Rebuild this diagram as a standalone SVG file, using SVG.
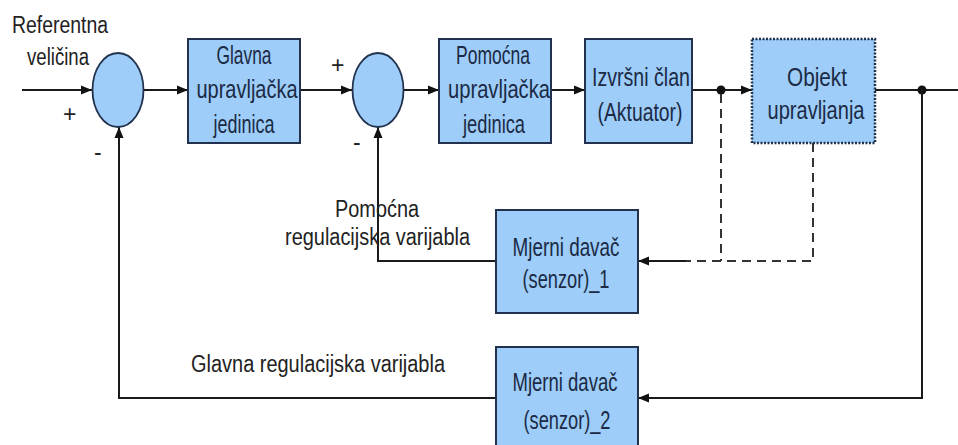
<svg xmlns="http://www.w3.org/2000/svg" width="958" height="445" viewBox="0 0 958 445">
<defs>
<marker id="arr" markerUnits="userSpaceOnUse" markerWidth="12" markerHeight="10" refX="11" refY="5" orient="auto">
<path d="M0,0.5 L11,5 L0,9.5 z" fill="#111"/>
</marker>
<style>
.line{fill:none;stroke:#1a1a1a;stroke-width:2}
.dash{fill:none;stroke:#333;stroke-width:2;stroke-dasharray:9,6}
.box{fill:#9dcdf8;stroke:#22324e;stroke-width:2}
.obj{fill:#9dcdf8;stroke:#22324e;stroke-width:2.5;stroke-dasharray:2,1.5}
.sum{fill:#9dcdf8;stroke:#22324e;stroke-width:1.8}
.bt{font-family:"Liberation Sans",Arial,sans-serif;font-size:25px;fill:#1b2a45;text-anchor:middle}
.lb{font-family:"Liberation Sans",Arial,sans-serif;font-size:23px;fill:#222}
.dot{fill:#111}
</style>
</defs>
<rect width="958" height="445" fill="#fff"/>

<g id="connectors">
<line class="line" x1="22" y1="90" x2="92" y2="90" marker-end="url(#arr)"/>
<line class="line" x1="143" y1="90" x2="188" y2="90" marker-end="url(#arr)"/>
<line class="line" x1="300" y1="90" x2="352" y2="90" marker-end="url(#arr)"/>
<line class="line" x1="403" y1="90" x2="439" y2="90" marker-end="url(#arr)"/>
<line class="line" x1="551" y1="90" x2="585" y2="90" marker-end="url(#arr)"/>
<line class="line" x1="692" y1="90" x2="752" y2="90" marker-end="url(#arr)"/>
<line class="line" x1="875" y1="90" x2="958" y2="90"/>
<circle class="dot" cx="721" cy="90" r="4.5"/>
<circle class="dot" cx="922" cy="90" r="4.5"/>
<path class="line" d="M922,90 V398 H638" marker-end="url(#arr)"/>
<path class="line" d="M496,398 H119 V127" marker-end="url(#arr)"/>
<path class="line" d="M496,261 H378 V127" marker-end="url(#arr)"/>
<path class="dash" d="M721,94 V261"/>
<path class="dash" d="M813,143 V261 H685"/>
<line class="line" x1="686" y1="261" x2="638" y2="261" marker-end="url(#arr)"/>
</g>

<g id="sum1"><ellipse class="sum" cx="118" cy="90" rx="25.5" ry="37"/></g>
<g id="sum2"><ellipse class="sum" cx="378" cy="90" rx="25.5" ry="37"/></g>

<g id="glavna">
<rect class="box" x="188" y="39" width="112" height="104"/>
<text class="bt" x="244" y="64" textLength="55" lengthAdjust="spacingAndGlyphs">Glavna</text>
<text class="bt" x="247" y="98" textLength="101" lengthAdjust="spacingAndGlyphs">upravljačka</text>
<text class="bt" x="244" y="133" textLength="61" lengthAdjust="spacingAndGlyphs">jedinica</text>
</g>

<g id="pomocna">
<rect class="box" x="439" y="39" width="112" height="104"/>
<text class="bt" x="493" y="64" textLength="74" lengthAdjust="spacingAndGlyphs">Pomoćna</text>
<text class="bt" x="499" y="98" textLength="102" lengthAdjust="spacingAndGlyphs">upravljačka</text>
<text class="bt" x="494" y="133" textLength="62" lengthAdjust="spacingAndGlyphs">jedinica</text>
</g>

<g id="izvrsni">
<rect class="box" x="585" y="39" width="107" height="104"/>
<text class="bt" x="641" y="86" textLength="98" lengthAdjust="spacingAndGlyphs">Izvršni član</text>
<text class="bt" x="640" y="121" textLength="85" lengthAdjust="spacingAndGlyphs">(Aktuator)</text>
</g>

<g id="objekt">
<rect class="obj" x="752" y="39" width="123" height="104"/>
<text class="bt" x="817" y="86" textLength="60" lengthAdjust="spacingAndGlyphs">Objekt</text>
<text class="bt" x="816" y="119" textLength="97" lengthAdjust="spacingAndGlyphs">upravljanja</text>
</g>

<g id="senzor1">
<rect class="box" x="496" y="210" width="142" height="103"/>
<text class="bt" x="566" y="256" textLength="107" lengthAdjust="spacingAndGlyphs">Mjerni davač</text>
<text class="bt" x="566" y="288" textLength="87" lengthAdjust="spacingAndGlyphs">(senzor)_1</text>
</g>

<g id="senzor2">
<rect class="box" x="496" y="347" width="142" height="110"/>
<text class="bt" x="565" y="391" textLength="105" lengthAdjust="spacingAndGlyphs">Mjerni davač</text>
<text class="bt" x="567" y="429" textLength="87" lengthAdjust="spacingAndGlyphs">(senzor)_2</text>
</g>

<g id="labels">
<text class="lb" x="12" y="33" textLength="96" lengthAdjust="spacingAndGlyphs">Referentna</text>
<text class="lb" x="27" y="65" textLength="62" lengthAdjust="spacingAndGlyphs">veličina</text>
<text class="lb" x="63" y="122">+</text>
<text class="lb" x="94" y="160">-</text>
<text class="lb" x="331" y="73">+</text>
<text class="lb" x="353" y="150">-</text>
<text class="lb" x="335" y="217" textLength="84" lengthAdjust="spacingAndGlyphs">Pomoćna</text>
<text class="lb" x="285" y="245" textLength="185" lengthAdjust="spacingAndGlyphs">regulacijska varijabla</text>
<text class="lb" x="191" y="372" textLength="254" lengthAdjust="spacingAndGlyphs">Glavna regulacijska varijabla</text>
</g>
</svg>
